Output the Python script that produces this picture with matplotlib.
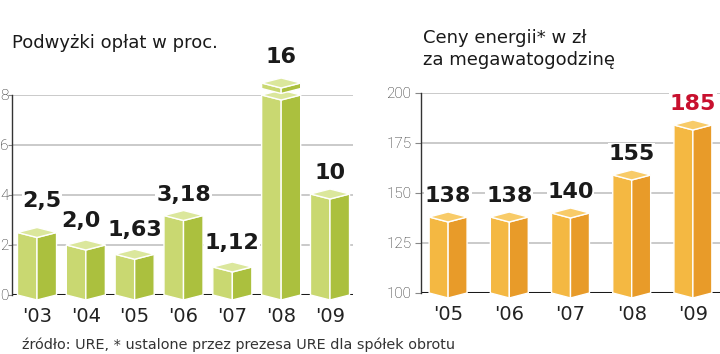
import numpy as np
import matplotlib.pyplot as plt
from matplotlib.patches import Polygon

# data
years_l = ["'03", "'04", "'05", "'06", "'07", "'08", "'09"]
labels_l = ["2,5", "2,0", "1,63", "3,18", "1,12", "16", "10"]
heights_l = [2.5, 2.0, 1.63, 3.18, 1.12, 8.0, 4.04]   # as drawn (bar '08 is broken)

years_r = ["'05", "'06", "'07", "'08", "'09"]
labels_r = ["138", "138", "140", "155", "185"]
heights_r = [138, 138, 140, 159, 184]

W, H = 720, 354
fig = plt.figure(figsize=(W / 100, H / 100), dpi=100)

green = ("#c9d871", "#abc03e", "#dbe79c")
orange = ("#f4b842", "#e89b29", "#f8cb68")


def box(ax, xc, top, base, hw, dy, cols, z=3):
    left = [(xc - hw, base), (xc, base - dy), (xc, top - dy), (xc - hw, top)]
    right = [(xc, base - dy), (xc + hw, base), (xc + hw, top), (xc, top - dy)]
    lid = [(xc - hw, top), (xc, top - dy), (xc + hw, top), (xc, top + dy)]
    for pts, c in zip((left, right, lid), cols):
        ax.add_patch(Polygon(pts, closed=True, facecolor=c, edgecolor="white",
                             linewidth=1.0, clip_on=False, zorder=z))


def setup(ax, ticks, lo, hi, tl, pad):
    ax.set_ylim(lo, hi)
    for s in ("top", "right", "bottom"):
        ax.spines[s].set_visible(False)
    ax.spines["left"].set_color("#333333")
    ax.spines["left"].set_linewidth(1.0)
    ax.set_yticks(ticks)
    ax.tick_params(axis="y", length=tl, width=0.8, color="#888888", pad=pad,
                   labelsize=11, labelcolor="#222222")
    for t in ax.get_yticklabels():
        t.set_fontfamily("Roboto")
        t.set_fontweight("light")
    ax.tick_params(axis="x", length=0, pad=9, labelsize=14, labelcolor="#222222")
    for t in ticks[1:]:
        ax.axhline(t, color="#c6c6c6", lw=1.3, zorder=1)
    ax.axhline(lo, color="#1a1a1a", lw=2.2, zorder=2)


# left panel: 25 px per unit
axl = fig.add_axes([12 / W, 59 / H, 341 / W, 200 / H])
xl = np.arange(len(years_l))
axl.set_xlim(-0.512, 6.471)
setup(axl, [0, 2, 4, 6, 8], 0, 8, 3, -0.5)
axl.set_xticks(xl)
axl.set_xticklabels(years_l)
u = 1 / 25.0
dyl = 5 * u
for i, h in enumerate(heights_l):
    box(axl, xl[i], h, 0, 0.4, dyl, green)
# broken top of the '08 bar
box(axl, xl[5], 8.48, 8.26, 0.4, dyl, green, z=4)
nudge = [5, -5, 0, 0, 0, 0, 0]
gap = [16, 9, 9, 6, 9, 11, 6]
for i, lab in enumerate(labels_l):
    top = 8.48 if i == 5 else heights_l[i]
    axl.text(xl[i] + nudge[i] / 48.8, top + dyl + gap[i] * u, lab, ha="center",
             va="bottom", fontsize=16, fontweight="bold", color="#1a1a1a",
             zorder=5, bbox=dict(facecolor="white", edgecolor="none", pad=0.5))

# right panel: 2 px per unit
axr = fig.add_axes([421 / W, 61 / H, 299 / W, 200 / H])
xr = np.arange(len(years_r))
axr.set_xlim(-0.443, 4.443)
setup(axr, [100, 125, 150, 175, 200], 100, 200, 4, 3)
axr.set_xticks(xr)
axr.set_xticklabels(years_r)
dyr = 5 * 0.5
for i, h in enumerate(heights_r):
    box(axr, xr[i], h, 100, 0.31, dyr, orange)
for i, lab in enumerate(labels_r):
    col = "#c8102e" if i == len(labels_r) - 1 else "#1a1a1a"
    axr.text(xr[i], heights_r[i] + dyr + 6 * 0.5, lab, ha="center", va="bottom",
             fontsize=16, fontweight="bold", color=col, zorder=5,
             bbox=dict(facecolor="white", edgecolor="none", pad=0.5))

fig.text(12 / W, 1 - 48 / H, "Podwyżki opłat w proc.", fontsize=13,
         color="#1a1a1a", va="baseline", ha="left")
fig.text(423 / W, 1 - 43 / H, "Ceny energii* w zł", fontsize=13,
         color="#1a1a1a", va="baseline", ha="left")
fig.text(423 / W, 1 - 65 / H, "za megawatogodzinę", fontsize=13,
         color="#1a1a1a", va="baseline", ha="left")
fig.text(22 / W, 1 - 349 / H,
         "źródło: URE, * ustalone przez prezesa URE dla spółek obrotu",
         fontsize=10.4, color="#333333", va="baseline", ha="left")

fig.savefig("out.png", dpi=100)
